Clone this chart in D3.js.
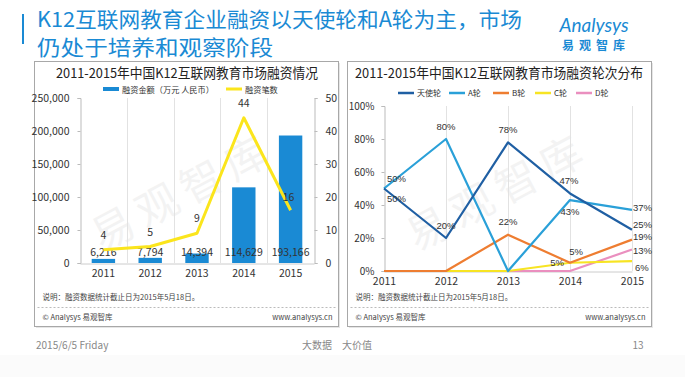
<!DOCTYPE html>
<html><head><meta charset="utf-8">
<script src="https://cdn.jsdelivr.net/npm/d3@7"></script>
<style>
html,body{margin:0;padding:0;background:#fff;}
svg{display:block;font-family:"Noto Sans CJK SC","Noto Sans",sans-serif;}
</style></head>
<body>
<svg id="c" width="685" height="377"></svg>
<script>
// ---------- DATA ----------
const years = ["2011","2012","2013","2014","2015"];
const amount = [6216, 7794, 14394, 114629, 193166];       // 融资金额（万元 人民币）
const deals = [4, 5, 9, 44, 16];                         // 融资笔数
const leftTicks = [0, 50000, 100000, 150000, 200000, 250000];
const rightTicks = [0, 10, 20, 30, 40, 50];
const roundNames = ["天使轮", "A轮", "B轮", "C轮", "D轮"];
const angel = [50, 20, 78, 47, 25];
const roundA = [50, 80, 0, 43, 37];
const roundB = [0, 0, 22, 5, 19];
const roundC = [0, 0, 0, 5, 6];
const roundD = [0, 0, 0, 0, 13];
const pctTicks = [0, 20, 40, 60, 80, 100];

// ---------- STYLE ----------
const blue = "#1a8ad4", yellow = "#fbe51c";
const roundColors = ["#1f5fa3", "#2aa0d8", "#ee7d31", "#f7e423", "#ea8fbf"];
const txt = "#333";
const numFont = "'Liberation Sans', Arial, sans-serif";

const svg = d3.select("#c");
const fmt = d3.format(",");

// slide header
svg.append("rect").attr("x",0).attr("y",355).attr("width",685).attr("height",22).attr("fill","#fbfbfb");
svg.append("rect").attr("x",22).attr("y",14).attr("width",2).attr("height",30).attr("fill",blue);
svg.append("text").attr("x",37).attr("y",27).attr("font-size",21).attr("fill",blue)
  .attr("textLength",485).attr("lengthAdjust","spacingAndGlyphs")
  .text("K12互联网教育企业融资以天使轮和A轮为主，市场");
svg.append("text").attr("x",37).attr("y",55).attr("font-size",21).attr("fill",blue)
  .attr("textLength",236).attr("lengthAdjust","spacingAndGlyphs")
  .text("仍处于培养和观察阶段");
svg.append("text").attr("x",594).attr("y",32).attr("text-anchor","middle").attr("font-size",19)
  .attr("font-style","italic").attr("font-family","Lato, sans-serif").attr("fill",blue).text("Analysys");
svg.append("text").attr("x",596).attr("y",50).attr("text-anchor","middle").attr("font-size",12)
  .attr("font-weight","bold").attr("letter-spacing",5).attr("fill",blue).text("易观智库");

// footer
svg.append("text").attr("x",36).attr("y",349).attr("font-size",10).attr("fill","#888").text("2015/6/5 Friday");
svg.append("text").attr("x",337).attr("y",349).attr("text-anchor","middle").attr("font-size",10).attr("fill","#888").text("大数据　大价值");
svg.append("text").attr("x",638).attr("y",349).attr("text-anchor","middle").attr("font-size",10).attr("fill","#888").text("13");

function panel(x0, x1, y0, y1, title, tx, tlen) {
  const g = svg.append("g");
  g.append("rect").attr("x",x0+1.5).attr("y",y0+1.5).attr("width",x1-x0).attr("height",y1-y0).attr("fill","#e6e6e6");
  g.append("rect").attr("x",x0).attr("y",y0).attr("width",x1-x0).attr("height",y1-y0)
    .attr("fill","#fff").attr("stroke","#a8a8a8").attr("stroke-width",1);
  g.append("text").attr("x",tx - tlen/2).attr("y",y0+16).attr("font-size",13.5)
    .attr("textLength",tlen).attr("lengthAdjust","spacingAndGlyphs")
    .attr("fill","#222").text(title);
  g.append("text").attr("x",x0+8).attr("y",300).attr("font-size",7.5).attr("fill","#444")
    .text("说明：融资数据统计截止日为2015年5月18日。");
  g.append("line").attr("x1",x0+3).attr("x2",x1-3).attr("y1",307.5).attr("y2",307.5)
    .attr("stroke","#bbb").attr("stroke-dasharray","2,2");
  g.append("text").attr("x",x0+8).attr("y",320).attr("font-size",7.5).attr("fill","#444").text("© Analysys 易观智库");
  g.append("text").attr("x",x1-6).attr("y",320).attr("text-anchor","end").attr("font-size",7.5).attr("fill","#444").text("www.analysys.cn");
  return g;
}

// watermark
function watermark(cx, cy) {
  svg.append("text").attr("transform",`translate(${cx},${cy}) rotate(-28)`).attr("text-anchor","middle")
    .attr("font-size",42).attr("fill","#000").attr("opacity",0.045).attr("letter-spacing",8).text("易观智库");
}

// ---------- LEFT CHART ----------
panel(34.5, 338.5, 61.5, 326.5, "2011-2015年中国K12互联网教育市场融资情况", 187, 262);
watermark(190, 205);
const xL = d3.scaleBand().domain(years).range([80, 314]).paddingInner(0.5).paddingOuter(0.25);
const yL = d3.scaleLinear().domain([0, 250000]).range([263, 98]);
const yR = d3.scaleLinear().domain([0, 50]).range([263, 98]);
const step = xL.step();

// vertical gridlines at band boundaries
svg.append("g").selectAll("line").data(years.slice(1)).join("line")
  .attr("x1", d => Math.round(xL(d) - step*xL.paddingInner()/2)+0.5)
  .attr("x2", d => Math.round(xL(d) - step*xL.paddingInner()/2)+0.5)
  .attr("y1", 98).attr("y2", 263).attr("stroke","#e2e2e2");

const axL = svg.append("g").attr("transform","translate(80.5,0)")
  .call(d3.axisLeft(yL).tickValues(leftTicks).tickFormat(fmt).tickSize(3).tickPadding(8));
const axR = svg.append("g").attr("transform","translate(314.5,0)")
  .call(d3.axisRight(yR).tickValues(rightTicks).tickSize(3).tickPadding(8));
[axL, axR].forEach(a => {
  a.select(".domain").attr("stroke","#bbb");
  a.selectAll(".tick line").attr("stroke","#bbb");
  a.selectAll("text").attr("font-size",10.5).attr("fill",txt).attr("font-family","Noto Sans CJK SC");
});
const axB = svg.append("g").attr("transform","translate(0,263.5)")
  .call(d3.axisBottom(xL).tickSize(0).tickPadding(6));
axB.select(".domain").attr("stroke","#ccc");
axB.selectAll("text").attr("font-size",10.5).attr("fill",txt).attr("font-family","Noto Sans CJK SC");

svg.append("g").selectAll("rect").data(amount).join("rect")
  .attr("x",(d,i)=>xL(years[i])).attr("width",xL.bandwidth())
  .attr("y",d=>yL(d)).attr("height",d=>yL(0)-yL(d)).attr("fill",blue);
svg.append("g").selectAll("text").data(amount).join("text")
  .attr("x",(d,i)=>xL(years[i])+xL.bandwidth()/2).attr("y",yL(0)-7)
  .attr("text-anchor","middle").attr("font-size",10.5).attr("fill",txt).text(d=>fmt(d));

const lineL = d3.line().x((d,i)=>xL(years[i])+xL.bandwidth()/2).y(d=>yR(d));
svg.append("path").datum(deals).attr("d",lineL).attr("fill","none").attr("stroke",yellow)
  .attr("stroke-width",3).attr("stroke-linejoin","round");
svg.append("g").selectAll("text").data(deals).join("text")
  .attr("x",(d,i)=>xL(years[i])+xL.bandwidth()/2 - (i===4?2:0)).attr("y",(d,i)=>yR(d)-(i===4?9:11))
  .attr("text-anchor","middle").attr("font-size",10.5).attr("fill",txt).text(d=>d);

// left legend
svg.append("rect").attr("x",103).attr("y",87).attr("width",16).attr("height",4).attr("fill",blue);
svg.append("text").attr("x",122).attr("y",92.5).attr("font-size",8.2).attr("fill","#333").text("融资金额（万元 人民币）");
svg.append("line").attr("x1",226).attr("x2",242).attr("y1",89).attr("y2",89).attr("stroke",yellow).attr("stroke-width",3);
svg.append("text").attr("x",245).attr("y",92.5).attr("font-size",8.2).attr("fill","#333").text("融资笔数");

// ---------- RIGHT CHART ----------
panel(347.5, 651.5, 61.5, 326.5, "2011-2015年中国K12互联网教育市场融资轮次分布", 499, 288);
watermark(505, 205);
const xP = d3.scalePoint().domain(years).range([384, 632]);
const yP = d3.scaleLinear().domain([0, 100]).range([271, 106]);

svg.append("g").selectAll("line").data(years.slice(1)).join("line")
  .attr("x1",d=>Math.round(xP(d))+0.5).attr("x2",d=>Math.round(xP(d))+0.5)
  .attr("y1",106).attr("y2",271).attr("stroke","#e2e2e2");
const axP = svg.append("g").attr("transform","translate(384.5,0)")
  .call(d3.axisLeft(yP).tickValues(pctTicks).tickFormat(d=>d+"%").tickSize(3).tickPadding(7));
axP.select(".domain").attr("stroke","#bbb");
axP.selectAll(".tick line").attr("stroke","#bbb");
axP.selectAll("text").attr("font-size",10).attr("fill",txt).attr("font-family","Noto Sans CJK SC");
const axPB = svg.append("g").attr("transform","translate(0,271.5)")
  .call(d3.axisBottom(xP).tickSize(0).tickPadding(6));
axPB.select(".domain").attr("stroke","#ccc");
axPB.selectAll("text").attr("font-size",10.5).attr("fill",txt).attr("font-family","Noto Sans CJK SC");

const rounds = [angel, roundA, roundB, roundC, roundD];
const lineP = d3.line().x((d,i)=>xP(years[i])).y(d=>yP(d));
// draw in back-to-front order: D, C, B, A, 天使轮
[4,3,2,1,0].forEach(k => {
  svg.append("path").datum(rounds[k]).attr("d",lineP).attr("fill","none")
    .attr("stroke",roundColors[k]).attr("stroke-width",2.2).attr("stroke-linejoin","round");
});

// label placement: [series, yearIndex, dx, dy, anchor]
const labelPlace = [
  [0,0,3,11,"start"],[0,1,0,-12,"middle"],[0,2,0,-12,"middle"],[0,3,-1,-12,"middle"],[0,4,1,-4,"start"],
  [1,0,3,-9,"start"],[1,1,0,-12,"middle"],[1,3,0,12,"middle"],[1,4,1,-1,"start"],
  [2,2,0,-12,"middle"],[2,3,6,-10,"middle"],[2,4,1,-2,"start"],
  [3,3,-6,1,"end"],[3,4,3,7,"start"],
  [4,4,1,2,"start"]
];
svg.append("g").selectAll("text").data(labelPlace).join("text")
  .attr("x",d=>xP(years[d[1]])+d[2]).attr("y",d=>yP(rounds[d[0]][d[1]])+d[3])
  .attr("dominant-baseline","middle").attr("text-anchor",d=>d[4])
  .attr("font-family",numFont)
  .attr("font-size",9.5).attr("fill",txt).text(d=>rounds[d[0]][d[1]]+"%");

// right legend
const legX = [398, 449, 493, 535, 576];
roundNames.forEach((n,k)=>{
  svg.append("line").attr("x1",legX[k]).attr("x2",legX[k]+16).attr("y1",93).attr("y2",93)
    .attr("stroke",roundColors[k]).attr("stroke-width",2.5);
  svg.append("text").attr("x",legX[k]+19).attr("y",96).attr("font-size",8).attr("fill","#333").text(n);
});
</script>
</body></html>
